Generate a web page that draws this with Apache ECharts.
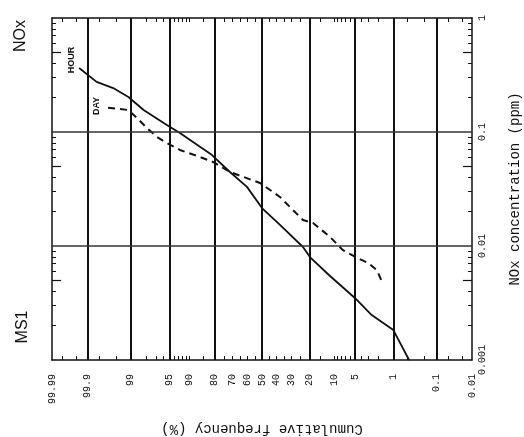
<!DOCTYPE html>
<html>
<head>
<meta charset="utf-8">
<script src="https://cdn.jsdelivr.net/npm/echarts@6/dist/echarts.min.js"></script>
<style>
html,body{margin:0;padding:0;background:#fff;}
#chart{width:524px;height:437px;}
</style>
</head>
<body>
<div id="chart"></div>
<script>
// ---- data (cumulative frequency %, NOx ppm) ----
const freqLabels = [99.99, 99.9, 99, 95, 90, 80, 70, 60, 50, 40, 30, 20, 10, 5, 1, 0.1, 0.01];
const freqGrid = [99.9, 99, 95, 80, 50, 20, 5, 1, 0.1];
const freqMinor = [99.98, 99.95, 99.9, 99.8, 99.5, 99, 98, 97, 96, 95, 94, 93, 92, 91, 90, 85, 80, 75, 70, 65, 60, 55, 50, 45, 40, 35, 30, 25, 20, 15, 10, 9, 8, 7, 6, 5, 4, 3, 2, 1, 0.5, 0.2, 0.1, 0.05, 0.02];
const concLabels = [0.001, 0.01, 0.1, 1];
const concGrid = [0.01, 0.1];
const concMinor = [0.002,0.003,0.004,0.006,0.007,0.008,0.009,0.02,0.03,0.04,0.06,0.07,0.08,0.09,0.2,0.3,0.4,0.6,0.7,0.8,0.9];
const concMid = [0.005, 0.05, 0.5];

const hourFreq = [99.94, 99.83, 99.58, 99.1, 98.2, 95.4, 92.7, 81.2, 71.5, 60.5, 50, 37.5, 23.4, 19.8, 11.8, 5.0, 2.6, 1.0, 0.46];
const hourConc = [0.364, 0.275, 0.243, 0.203, 0.156, 0.115, 0.098, 0.0628, 0.0446, 0.033, 0.0215, 0.0153, 0.0098, 0.0080, 0.00557, 0.0035, 0.00248, 0.00183, 0.001];

const dayFreq = [99.68, 99.12, 98.66, 97.9, 96.85, 95.4, 92.7, 86.4, 80.7, 71.5, 51.4, 37.5, 23.4, 18.3, 11.4, 7.6, 4.6, 3.0, 2.1, 1.7];
const dayConc = [0.163, 0.156, 0.133, 0.108, 0.0904, 0.080, 0.0696, 0.0604, 0.0546, 0.0446, 0.0357, 0.0269, 0.0169, 0.0159, 0.0120, 0.0092, 0.00785, 0.0071, 0.00615, 0.00493];

// ---- normal probability scale (inverse normal CDF, Acklam) ----
function probit(pct) {
  const p = pct / 100;
  const a = [-3.969683028665376e+01, 2.209460984245205e+02, -2.759285104469687e+02, 1.383577518672690e+02, -3.066479806614716e+01, 2.506628277459239e+00];
  const b = [-5.447609879822406e+01, 1.615858368580409e+02, -1.556989798598866e+02, 6.680131188771972e+01, -1.328068155288572e+01];
  const c = [-7.784894002430293e-03, -3.223964580411365e-01, -2.400758277161838e+00, -2.549732539343734e+00, 4.374664141464968e+00, 2.938163982698783e+00];
  const d = [7.784695709041462e-03, 3.224671290700398e-01, 2.445134137142996e+00, 3.754408661907416e+00];
  const pl = 0.02425, ph = 1 - pl;
  let q, r;
  if (p < pl) {
    q = Math.sqrt(-2 * Math.log(p));
    return (((((c[0]*q+c[1])*q+c[2])*q+c[3])*q+c[4])*q+c[5]) / ((((d[0]*q+d[1])*q+d[2])*q+d[3])*q+1);
  } else if (p <= ph) {
    q = p - 0.5; r = q * q;
    return (((((a[0]*r+a[1])*r+a[2])*r+a[3])*r+a[4])*r+a[5])*q / (((((b[0]*r+b[1])*r+b[2])*r+b[3])*r+b[4])*r+1);
  } else {
    q = Math.sqrt(-2 * Math.log(1 - p));
    return -(((((c[0]*q+c[1])*q+c[2])*q+c[3])*q+c[4])*q+c[5]) / ((((d[0]*q+d[1])*q+d[2])*q+d[3])*q+1);
  }
}
const zMin = probit(0.01), zMax = probit(99.99);
const labelMap = freqLabels.map(f => ({ z: probit(f), t: String(f) }));
function labelFor(v) {
  let best = labelMap[0];
  labelMap.forEach(m => { if (Math.abs(m.z - v) < Math.abs(best.z - v)) best = m; });
  return best.t;
}

const chart = echarts.init(document.getElementById('chart'));
const mono = 'Liberation Mono';
const ink = '#111';

const xBase = {
  type: 'value', min: zMin, max: zMax, inverse: true,
  splitLine: { show: false },
  axisLine: { show: true, onZero: false, lineStyle: { color: ink, width: 1.5 } },
  axisTick: { show: true, inside: true, length: 4, customValues: freqMinor.map(probit), lineStyle: { color: ink, width: 1 } }
};
const yBase = {
  type: 'log', logBase: 10, min: 0.001, max: 1,
  splitLine: { show: false },
  axisLine: { show: true, onZero: false, lineStyle: { color: ink, width: 1.5 } },
  axisTick: { show: true, inside: true, length: 4, customValues: concMinor, lineStyle: { color: ink, width: 1 } }
};
const yMidTicks = pos => Object.assign({}, yBase, {
  position: pos,
  axisLine: { show: false, onZero: false },
  axisTick: { show: true, inside: true, length: 9, customValues: concMid, lineStyle: { color: ink, width: 1.2 } },
  axisLabel: { show: false }
});

const option = {
  backgroundColor: '#fff',
  animation: false,
  grid: { left: 52, right: 52, top: 18, bottom: 77, show: false, containLabel: false, outerBoundsMode: 'none' },
  xAxis: [
    Object.assign({}, xBase, {
      position: 'bottom',
      name: 'Cumulative frequency (%)', nameLocation: 'middle', nameGap: 62, nameRotate: 180,
      nameTextStyle: { fontFamily: mono, fontSize: 14, color: ink },
      axisLabel: { show: true, customValues: freqLabels.map(probit), rotate: 90, margin: 14,
        fontFamily: mono, fontSize: 10, color: ink, formatter: v => labelFor(v) }
    }),
    Object.assign({}, xBase, { position: 'top', axisLabel: { show: false } })
  ],
  yAxis: [
    Object.assign({}, yBase, {
      position: 'right',
      name: 'NOx concentration (ppm)', nameLocation: 'middle', nameGap: 36, nameRotate: 90,
      nameTextStyle: { fontFamily: mono, fontSize: 14, color: ink },
      axisLabel: { show: true, customValues: concLabels, rotate: 90, margin: 5,
        fontFamily: mono, fontSize: 10, color: ink, formatter: v => String(+v.toPrecision(3)) }
    }),
    Object.assign({}, yBase, { position: 'left', axisLabel: { show: false } }),
    yMidTicks('left'),
    yMidTicks('right')
  ],
  graphic: [
    { type: 'text', x: 21, y: 36, rotation: Math.PI / 2,
      style: { text: 'NOx', font: '16px "Liberation Sans"', fill: ink, textAlign: 'center', textVerticalAlign: 'middle' } },
    { type: 'text', x: 23, y: 327, rotation: Math.PI / 2,
      style: { text: 'MS1', font: '16px "Liberation Sans"', fill: ink, textAlign: 'center', textVerticalAlign: 'middle' } },
    { type: 'text', x: 72, y: 60, rotation: Math.PI / 2,
      style: { text: 'HOUR', font: 'bold 9px "Liberation Sans"', fill: ink, textAlign: 'center', textVerticalAlign: 'middle' } },
    { type: 'text', x: 97, y: 106, rotation: Math.PI / 2,
      style: { text: 'DAY', font: 'bold 9px "Liberation Sans"', fill: ink, textAlign: 'center', textVerticalAlign: 'middle' } }
  ],
  series: [
    {
      name: 'grid', type: 'line', data: [], xAxisIndex: 0, yAxisIndex: 0, silent: true,
      markLine: {
        symbol: 'none', silent: true, label: { show: false }, animation: false,
        data: freqGrid.map(f => ({ xAxis: probit(f), lineStyle: { color: ink, width: 2, type: 'solid' } }))
          .concat(concGrid.map(c => ({ yAxis: c, lineStyle: { color: '#333', width: 1.5, type: 'solid' } })))
      }
    },
    {
      name: 'HOUR', type: 'line', xAxisIndex: 0, yAxisIndex: 0, showSymbol: false, symbol: 'none', smooth: false,
      lineStyle: { color: ink, width: 1.8 },
      data: hourFreq.map((f, i) => [probit(f), hourConc[i]])
    },
    {
      name: 'DAY', type: 'line', xAxisIndex: 0, yAxisIndex: 0, showSymbol: false, symbol: 'none', smooth: false,
      lineStyle: { color: ink, width: 2, type: [7, 5] },
      data: dayFreq.map((f, i) => [probit(f), dayConc[i]])
    }
  ]
};
chart.setOption(option);
</script>
</body>
</html>
